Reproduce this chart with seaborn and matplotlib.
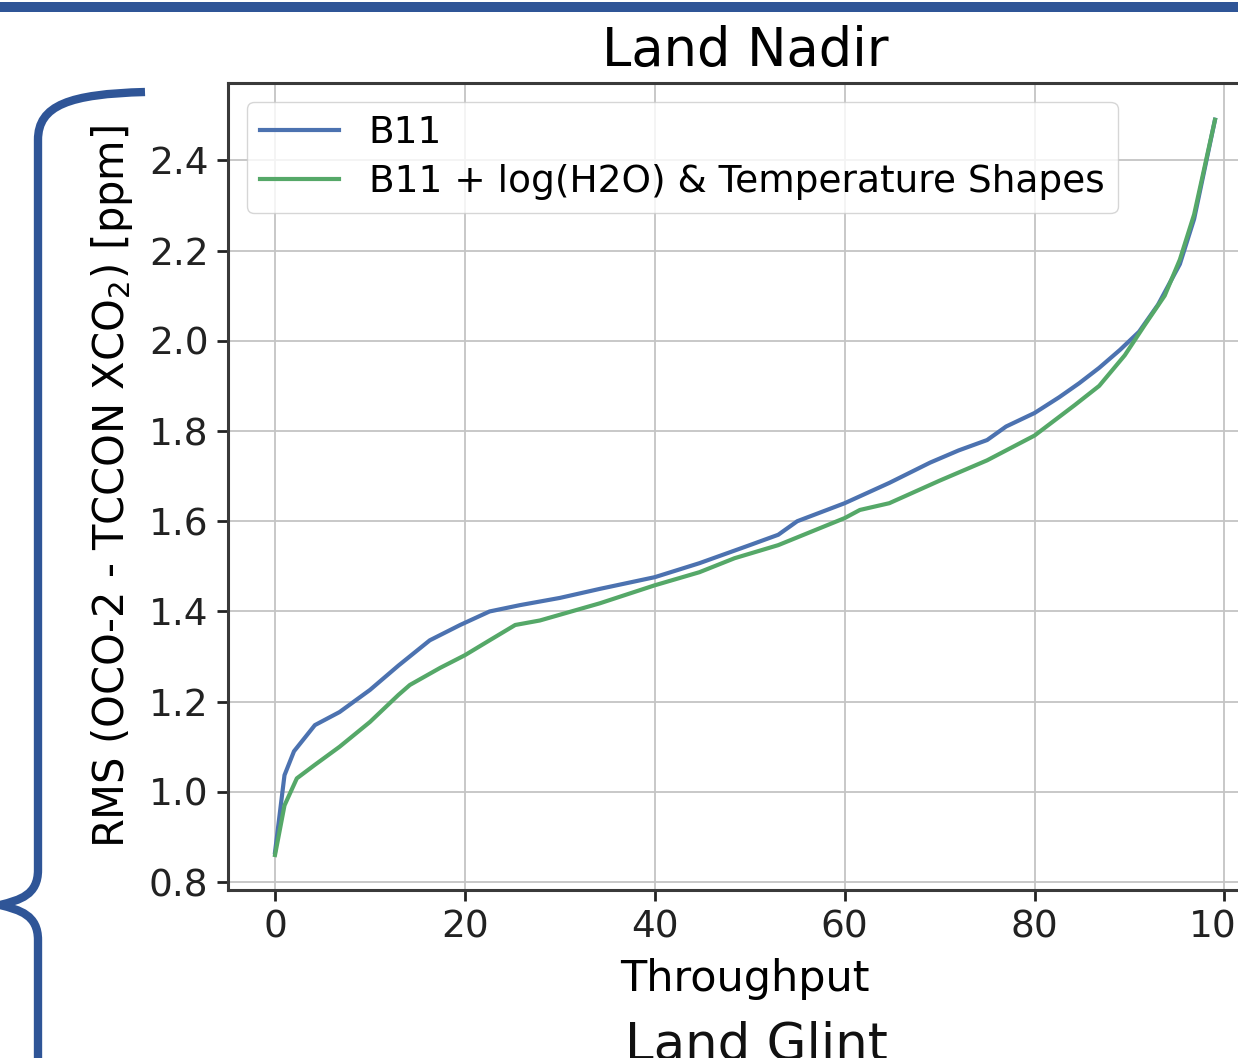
import numpy as np
import pandas as pd
import matplotlib
matplotlib.use("Agg")
import matplotlib.pyplot as plt
from matplotlib.path import Path
from matplotlib.patches import PathPatch, Rectangle
import seaborn as sns

# ---- data ----
b11_x = [0, 1, 2, 4.2, 6.8, 10, 13, 16.3, 19.5, 22.6, 25.8, 30, 34.2, 40, 44.7, 50,
         53, 55, 60, 64.7, 69, 72, 75, 77, 80, 82.6, 84.7, 86.8, 89, 91, 93, 95.3, 96.8, 99]
b11_y = [0.866, 1.037, 1.09, 1.148, 1.177, 1.226, 1.28, 1.336, 1.37, 1.40, 1.414, 1.43, 1.45,
         1.476, 1.507, 1.547, 1.57, 1.60, 1.64, 1.685, 1.73, 1.757, 1.78, 1.81, 1.84, 1.875,
         1.906, 1.94, 1.98, 2.02, 2.08, 2.17, 2.27, 2.49]
h2o_x = [0, 1, 2.3, 4.2, 6.8, 10, 13, 14.2, 17.4, 20, 22.6, 25.3, 27.9, 34.2, 40, 44.7, 48.4,
         53, 60, 61.6, 64.7, 70, 75, 80, 84.2, 86.8, 89.5, 91.6, 93.7, 95.3, 96.8, 99]
h2o_y = [0.86, 0.97, 1.03, 1.06, 1.10, 1.155, 1.215, 1.237, 1.275, 1.303, 1.336, 1.37, 1.38,
         1.418, 1.458, 1.487, 1.518, 1.547, 1.607, 1.625, 1.64, 1.69, 1.735, 1.79, 1.857,
         1.90, 1.968, 2.035, 2.10, 2.18, 2.28, 2.49]
series_names = ["B11", "B11 + log(H2O) & Temperature Shapes"]
series_colors = ["#4C72B0", "#55A868"]

df = pd.concat([
    pd.DataFrame({"Throughput": b11_x, "RMS": b11_y, "series": series_names[0]}),
    pd.DataFrame({"Throughput": h2o_x, "RMS": h2o_y, "series": series_names[1]}),
])

W, H = 1238, 1058
fig = plt.figure(figsize=(W / 100, H / 100), dpi=100)
fig.patch.set_facecolor("white")

ax = fig.add_axes([228 / W, (H - 890) / H, (1262 - 228) / W, (890 - 83) / H])
sns.lineplot(data=df, x="Throughput", y="RMS", hue="series", hue_order=series_names,
             palette=series_colors, estimator=None, sort=False, linewidth=3.0, ax=ax)

ax.set_xlim(-4.95, 103.95)
ax.set_ylim(0.7825, 2.5715)
ax.set_xticks([0, 20, 40, 60, 80, 100])
ax.set_yticks([0.8, 1.0, 1.2, 1.4, 1.6, 1.8, 2.0, 2.2, 2.4])
ax.yaxis.set_major_formatter(matplotlib.ticker.FormatStrFormatter("%.1f"))
ax.grid(True, color="#c4c4c4", linewidth=1.3)
ax.set_axisbelow(True)
for s in ax.spines.values():
    s.set_linewidth(2.2)
    s.set_color("#3a3a3a")
ax.tick_params(labelsize=27, width=2, length=8, colors="#222222", pad=6)
ax.set_xlabel("Throughput", fontsize=31, labelpad=9)
ax.set_ylabel(r"RMS (OCO-2 - TCCON XCO$_2$) [ppm]", fontsize=30, labelpad=10)
ax.set_title("Land Nadir", fontsize=38, pad=12)
leg = ax.legend(loc="upper left", fontsize=27, frameon=True, handlelength=2.1,
                borderpad=0.35, labelspacing=0.35, framealpha=0.8)
for line in leg.get_lines():
    line.set_linewidth(3.0)

# slide decorations (overlay in pixel coordinates)
ov = fig.add_axes([0, 0, 1, 1], zorder=-1)
ov.set_xlim(0, W)
ov.set_ylim(H, 0)
ov.axis("off")
ov.add_patch(Rectangle((0, 2), W, 10, color="#2F5597", lw=0))
verts = [(145, 92), (70, 94), (38, 105), (38, 140),
         (38, 870),
         (38, 895), (20, 900), (0, 905),
         (20, 910), (38, 915), (38, 940),
         (38, 1070)]
codes = [Path.MOVETO, Path.CURVE4, Path.CURVE4, Path.CURVE4,
         Path.LINETO,
         Path.CURVE4, Path.CURVE4, Path.CURVE4,
         Path.CURVE4, Path.CURVE4, Path.CURVE4,
         Path.LINETO]
ov.add_patch(PathPatch(Path(verts, codes), fill=False, edgecolor="#2F5597", lw=6,
                       capstyle="butt"))
ov.text(756, 1020, "Land Glint", fontsize=37, ha="center", va="top", color="#111111")

fig.savefig("out.png", dpi=100, facecolor="white")
